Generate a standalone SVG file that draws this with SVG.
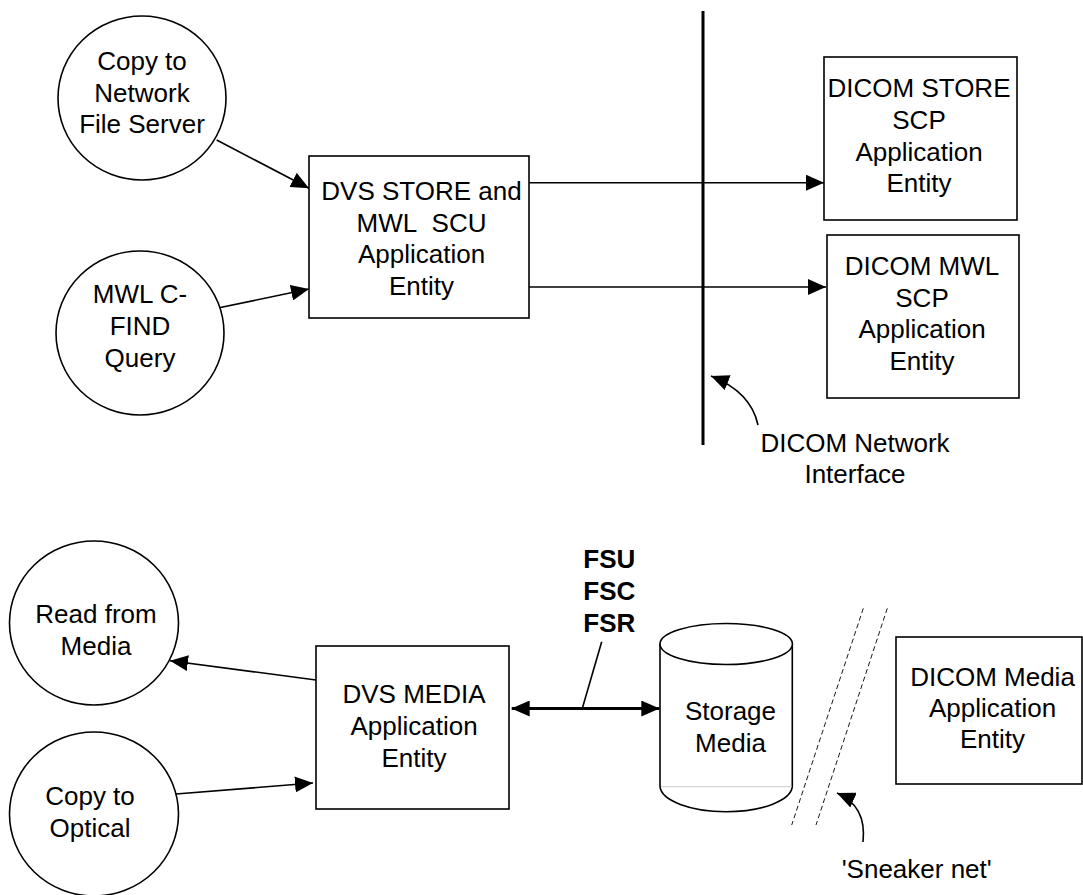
<svg xmlns="http://www.w3.org/2000/svg" width="1083" height="895" viewBox="0 0 1083 895">
<style>
text{font-family:"Liberation Sans",Arial,sans-serif;font-size:26px;fill:#000;text-anchor:middle}
.b{font-weight:bold;text-anchor:start}
.shape{fill:#fff;stroke:#000;stroke-width:1.6}
.ln{fill:none;stroke:#000;stroke-width:1.6}
.thick{fill:none;stroke:#000;stroke-width:3}
.dash{fill:none;stroke:#000;stroke-width:0.9;stroke-dasharray:5 3}
</style>
<defs>
<marker id="ah" markerUnits="userSpaceOnUse" markerWidth="18" markerHeight="16" refX="18" refY="8" orient="auto-start-reverse">
<path d="M0,0 L18,8 L0,16 z" fill="#000"/>
</marker>
</defs>
<rect width="1083" height="895" fill="#fff"/>
<g id="connectors">
<line class="thick" x1="703" y1="11" x2="703" y2="445"/>
<line class="ln" x1="216.7" y1="140" x2="309" y2="188.3" marker-end="url(#ah)"/>
<line class="ln" x1="216.7" y1="308.3" x2="309" y2="289" marker-end="url(#ah)"/>
<line class="ln" x1="529" y1="182.7" x2="824" y2="182.7" marker-end="url(#ah)"/>
<line class="ln" x1="529" y1="287" x2="826" y2="287" marker-end="url(#ah)"/>
<path class="ln" d="M758,425 Q751,392 711,376" marker-end="url(#ah)"/>
<line class="ln" x1="316" y1="680" x2="170" y2="660.7" marker-end="url(#ah)"/>
<line class="ln" x1="176" y1="794" x2="313" y2="783" marker-end="url(#ah)"/>
<line class="thick" x1="511.7" y1="708.5" x2="659.3" y2="708.5" marker-start="url(#ah)" marker-end="url(#ah)"/>
<line class="ln" x1="601.7" y1="641.7" x2="582.7" y2="707"/>
<line class="dash" x1="863.3" y1="608.3" x2="791.7" y2="825"/>
<line class="dash" x1="887.3" y1="608.3" x2="816" y2="825"/>
<path class="ln" d="M863,842 Q867,806 837,793" marker-end="url(#ah)"/>
</g>
<g id="copy-network">
<ellipse class="shape" cx="142" cy="98" rx="84" ry="82"/>
<text x="142" y="70">Copy to</text>
<text x="142" y="101.7">Network</text>
<text x="142" y="133.3">File Server</text>
</g>
<g id="mwl-query">
<ellipse class="shape" cx="140" cy="333" rx="84" ry="82"/>
<text x="140" y="303">MWL C-</text>
<text x="140" y="335">FIND</text>
<text x="140" y="366.5">Query</text>
</g>
<g id="dvs-store">
<rect class="shape" x="309" y="156" width="220" height="162"/>
<text x="421.5" y="200">DVS STORE and</text>
<text x="421.5" y="232.3">MWL&#160; SCU</text>
<text x="421.5" y="263.3">Application</text>
<text x="421.5" y="295">Entity</text>
</g>
<g id="dicom-store">
<rect class="shape" x="824" y="57" width="193" height="163"/>
<text x="919" y="96.7">DICOM STORE</text>
<text x="919" y="129.3">SCP</text>
<text x="919" y="160.7">Application</text>
<text x="919" y="191.7">Entity</text>
</g>
<g id="dicom-mwl">
<rect class="shape" x="827" y="235" width="192" height="163"/>
<text x="922" y="275">DICOM MWL</text>
<text x="922" y="306.7">SCP</text>
<text x="922" y="338.3">Application</text>
<text x="922" y="370">Entity</text>
</g>
<g id="network-label">
<text x="855" y="451.7">DICOM Network</text>
<text x="855" y="483.3">Interface</text>
</g>
<g id="read-media">
<ellipse class="shape" cx="94" cy="623" rx="84.5" ry="82"/>
<text x="96" y="623.3">Read from</text>
<text x="96" y="655">Media</text>
</g>
<g id="copy-optical">
<ellipse class="shape" cx="94" cy="814" rx="84.5" ry="82"/>
<text x="90" y="805">Copy to</text>
<text x="90" y="836.7">Optical</text>
</g>
<g id="dvs-media">
<rect class="shape" x="316" y="646" width="193" height="163"/>
<text x="414" y="703.3">DVS MEDIA</text>
<text x="414" y="735">Application</text>
<text x="414" y="766.7">Entity</text>
</g>
<g id="fs-label">
<text class="b" x="583.3" y="568.3">FSU</text>
<text class="b" x="583.3" y="600">FSC</text>
<text class="b" x="583.3" y="631.7">FSR</text>
</g>
<g id="storage-media">
<path class="shape" d="M660,644 L660,786.7 A66.2,26 0 0 0 792.3,786.7 L792.3,644"/>
<line x1="661" y1="786.7" x2="791.5" y2="786.7" stroke="#ccc" stroke-width="1"/>
<ellipse class="shape" cx="726.2" cy="644" rx="66.2" ry="20.5"/>
<text x="730.5" y="720">Storage</text>
<text x="730.5" y="751.7">Media</text>
</g>
<g id="dicom-media">
<rect class="shape" x="896" y="637" width="186" height="147"/>
<text x="992.5" y="685.7">DICOM Media</text>
<text x="992.5" y="716.7">Application</text>
<text x="992.5" y="748.3">Entity</text>
</g>
<g id="sneaker-label">
<text x="916.7" y="878.3">'Sneaker net'</text>
</g>
</svg>
